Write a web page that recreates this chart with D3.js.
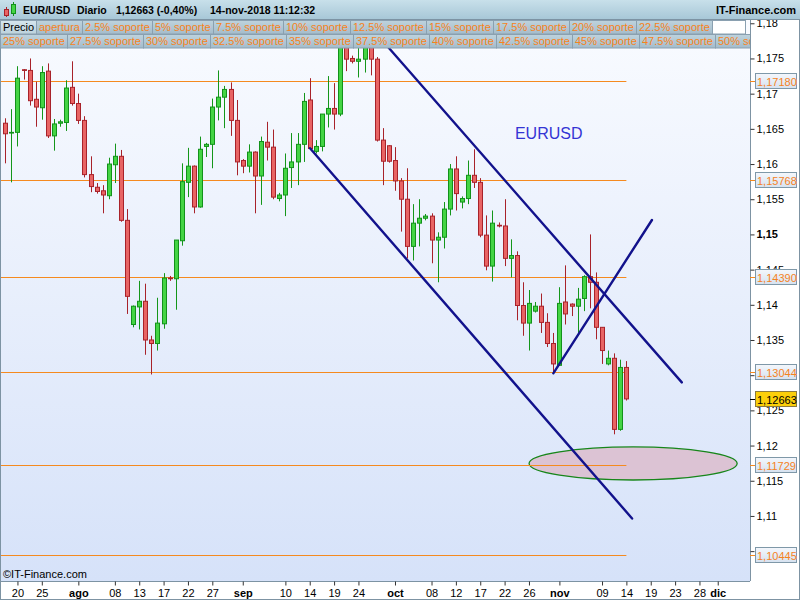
<!DOCTYPE html>
<html><head><meta charset="utf-8">
<script src="https://cdn.jsdelivr.net/npm/d3@7"></script>
<style>
body{margin:0;background:#fff}
svg{display:block;font-family:"Liberation Sans",Arial,sans-serif}
</style>
</head><body>
<svg id="c" width="800" height="600"></svg>
<script>
// ---------- DATA ----------
const opens = [1.1658,1.1644,1.1645,1.1734,1.1733,1.1692,1.1680,1.1732,1.1640,1.1658,
1.1659,1.1709,1.1686,1.1662,1.1585,1.1567,1.1562,1.1555,1.1599,1.1611,
1.1520,1.1372,1.1397,1.1405,1.1350,1.1345,1.1373,1.1438,1.1437,1.1491,
1.1574,1.1597,1.1539,1.1625,1.1628,1.1681,1.1695,1.1706,1.1662,1.1605,
1.1597,1.1617,1.1583,1.1631,1.1624,1.1551,1.1556,1.1595,1.1603,1.1628,
1.1691,1.1618,1.1625,1.1671,1.1679,1.1671,1.1778,1.1750,1.1746,1.1749,
1.1770,1.1749,1.1634,1.1626,1.1605,1.1576,1.1550,1.1483,1.1516,1.1523,
1.1526,1.1492,1.1496,1.1536,1.1593,1.1546,1.1551,1.1584,1.1574,1.1499,
1.1455,1.1513,1.1512,1.1466,1.1470,1.1399,1.1374,1.1391,1.1398,1.1375,
1.1345,1.1314,1.1404,1.1401,1.1398,1.1409,1.1440,1.1432,1.1368,1.1316,
1.1324,1.1223,1.1311];
const highs = [1.1665,1.1678,1.1739,1.1735,1.1750,1.1717,1.1739,1.1743,1.1664,1.1663,
1.1719,1.1746,1.1700,1.1668,1.1611,1.1573,1.1570,1.1609,1.1629,1.1620,
1.1536,1.1399,1.1434,1.1430,1.1356,1.1410,1.1445,1.1441,1.1492,1.1601,
1.1623,1.1598,1.1639,1.1630,1.1693,1.1733,1.1711,1.1716,1.1691,1.1607,
1.1628,1.1618,1.1639,1.1660,1.1649,1.1559,1.1615,1.1644,1.1644,1.1701,
1.1722,1.1634,1.1671,1.1725,1.1715,1.1787,1.1803,1.1754,1.1815,1.1795,
1.1776,1.1752,1.1651,1.1627,1.1624,1.1580,1.1594,1.1543,1.1550,1.1529,
1.1530,1.1503,1.1546,1.1600,1.1611,1.1554,1.1605,1.1621,1.1580,1.1527,
1.1534,1.1517,1.1550,1.1493,1.1476,1.1432,1.1421,1.1404,1.1416,1.1388,
1.1360,1.1425,1.1456,1.1402,1.1424,1.1442,1.1500,1.1446,1.1368,1.1335,
1.1331,1.1322,1.1320];
const lows = [1.1601,1.1574,1.1625,1.1720,1.1683,1.1653,1.1663,1.1637,1.1619,1.1653,
1.1647,1.1683,1.1657,1.1581,1.1560,1.1558,1.1530,1.1550,1.1573,1.1518,
1.1387,1.1368,1.1365,1.1329,1.1301,1.1335,1.1366,1.1434,1.1393,1.1484,
1.1553,1.1530,1.1538,1.1610,1.1594,1.1662,1.1651,1.1640,1.1584,1.1587,
1.1588,1.1530,1.1542,1.1605,1.1550,1.1547,1.1526,1.1566,1.1570,1.1603,
1.1621,1.1615,1.1618,1.1652,1.1649,1.1668,1.1732,1.1743,1.1723,1.1730,
1.1726,1.1632,1.1570,1.1602,1.1562,1.1504,1.1466,1.1463,1.1483,1.1520,
1.1459,1.1432,1.1480,1.1527,1.1534,1.1537,1.1543,1.1566,1.1496,1.1449,
1.1433,1.1510,1.1455,1.1439,1.1378,1.1356,1.1335,1.1389,1.1360,1.1340,
1.1304,1.1313,1.1372,1.1384,1.1360,1.1391,1.1395,1.1351,1.1316,1.1314,
1.1216,1.1221,1.1264];
const closes = [1.1643,1.1645,1.1722,1.1733,1.1690,1.1681,1.1730,1.1640,1.1657,1.1660,
1.1708,1.1686,1.1662,1.1585,1.1568,1.1561,1.1556,1.1600,1.1611,1.1520,
1.1412,1.1398,1.1405,1.1350,1.1345,1.1374,1.1438,1.1437,1.1492,1.1575,
1.1597,1.1539,1.1621,1.1628,1.1681,1.1695,1.1706,1.1662,1.1603,1.1597,
1.1617,1.1583,1.1632,1.1624,1.1553,1.1556,1.1594,1.1603,1.1628,1.1689,
1.1622,1.1625,1.1671,1.1679,1.1671,1.1778,1.1749,1.1746,1.1749,1.1770,
1.1749,1.1634,1.1604,1.1604,1.1576,1.1550,1.1483,1.1516,1.1523,1.1526,
1.1492,1.1496,1.1536,1.1593,1.1558,1.1551,1.1584,1.1574,1.1499,1.1455,
1.1516,1.1512,1.1466,1.1470,1.1399,1.1374,1.1402,1.1398,1.1375,1.1345,
1.1316,1.1402,1.1387,1.1398,1.1408,1.1440,1.1432,1.1368,1.1335,1.1324,
1.1223,1.1311,1.12663];

const levelValues = [1.17180, 1.15768, 1.14390, 1.13044, 1.11729, 1.10445];
const levelLabels = ["1,17180","1,15768","1,14390","1,13044","1,11729","1,10445"];
const lastPrice = 1.12663;
const lastLabel = "1,12663";

const yTickValues = [1.105,1.11,1.115,1.12,1.125,1.13,1.135,1.14,1.145,1.15,1.155,1.16,1.165,1.17,1.175,1.18];
// labels fully hidden behind the price boxes in the original are left empty
const yTickLabels = ["","1,11","1,115","1,12","1,125","","1,135","1,14","1,145","1,15","1,155","1,16","1,165","1,17","1,175","1,18"];

const xTickIdx    = [2,6,12,18,22,26,30,34,39,46,50,54,58,64,70,74,78,82,86,91,98,102,106,110,114,117];
const xTickLabels = ["20","25","ago","08","13","17","22","27","sep","10","14","19","24","oct","08","12","17","22","26","nov","09","14","19","23","28","dic"];
const xTickMonth  = ["ago","sep","oct","nov","dic"];

// trend lines: [startIndex, startPrice, endIndex, endPrice]
const channelTop    = [62.5, 1.17698, 111.1, 1.12898];
const channelBottom = [50.05, 1.16224, 102.94, 1.10964];
const riseLine      = [90.0, 1.13027, 106.2, 1.15205];
// ellipse zone: index range and price range
const zoneIdx   = [86.02, 120.19];
const zonePrice = [1.11511, 1.11980];
const noteText = "EURUSD";
const notePos = [83.7, 1.16356];

const legendRow1 = ["Precio","apertura","2.5% soporte","5% soporte","7.5% soporte","10% soporte","12.5% soporte","15% soporte","17.5% soporte","20% soporte","22.5% soporte"];
const legendRow2 = ["25% soporte","27.5% soporte","30% soporte","32.5% soporte","35% soporte","37.5% soporte","40% soporte","42.5% soporte","45% soporte","47.5% soporte","50% soporte"];

// ---------- DRAW ----------
const svg = d3.select("#c");
const W = 800, H = 600;
const plotL = 1, plotR = 750, plotT = 20, plotB = 581;

const x = d3.scaleLinear().domain([-0.7, 122.3]).range([plotL, plotR]);
const y = d3.scaleLinear().domain([1.100756, 1.18075]).range([plotB, 18]);

const defs = svg.append("defs");
function vgrad(id, c1, c2){
  const g = defs.append("linearGradient").attr("id", id).attr("x1",0).attr("y1",0).attr("x2",0).attr("y2",1);
  g.append("stop").attr("offset","0%").attr("stop-color",c1);
  g.append("stop").attr("offset","100%").attr("stop-color",c2);
}
vgrad("gPlot", "#f9fbff", "#d6e2f9");
vgrad("gTitle", "#c8e0ea", "#a6c6d6");
vgrad("gCell", "#bed3dd", "#a4bccb");
vgrad("gCell0", "#d6e6ee", "#bcd2dc");
vgrad("gBox", "#f4f7fc", "#d6e2f0");
defs.append("clipPath").attr("id","clipPlot").append("rect")
  .attr("x",plotL).attr("y",plotT).attr("width",plotR-plotL).attr("height",plotB-plotT);

svg.append("rect").attr("width",W).attr("height",H).attr("fill","#ffffff");
svg.append("rect").attr("x",plotL).attr("y",plotT).attr("width",plotR-plotL).attr("height",plotB-plotT)
  .attr("fill","url(#gPlot)");

const plot = svg.append("g").attr("clip-path","url(#clipPlot)");

// zone ellipse
plot.append("ellipse")
  .attr("cx", (x(zoneIdx[0])+x(zoneIdx[1]))/2)
  .attr("cy", (y(zonePrice[0])+y(zonePrice[1]))/2)
  .attr("rx", (x(zoneIdx[1])-x(zoneIdx[0]))/2)
  .attr("ry", (y(zonePrice[0])-y(zonePrice[1]))/2)
  .attr("fill","#dcc3d4").attr("stroke","#17861a").attr("stroke-width",1.3);

// horizontal levels
plot.selectAll("line.lvl").data(levelValues).enter().append("line")
  .attr("class","lvl")
  .attr("x1", x(-0.7)).attr("x2", x(opens.length-1))
  .attr("y1", d=>Math.round(y(d))+0.5).attr("y2", d=>Math.round(y(d))+0.5)
  .attr("stroke","#f58a1f").attr("stroke-width",1);

// candles
const data = opens.map((o,i)=>({i, o, h:highs[i], l:lows[i], c:closes[i]}));
const cg = plot.append("g");
const up = d=>d.c>=d.o;
cg.selectAll("line.wick").data(data).enter().append("line")
  .attr("x1", d=>Math.round(x(d.i))+0.5).attr("x2", d=>Math.round(x(d.i))+0.5)
  .attr("y1", d=>y(d.h)).attr("y2", d=>y(d.l))
  .attr("stroke", d=>up(d)?"#14961a":"#a8222a").attr("stroke-width",1);
cg.selectAll("rect.body").data(data).enter().append("rect")
  .attr("x", d=>Math.round(x(d.i))-1.5)
  .attr("width", 4)
  .attr("y", d=>y(Math.max(d.o,d.c)))
  .attr("height", d=>Math.max(0.01, Math.abs(y(d.o)-y(d.c))))
  .attr("fill", d=>up(d)?"#44d444":"#e86464")
  .attr("stroke", d=>up(d)?"#12921a":"#a8222a").attr("stroke-width",1);

// trend lines
[channelTop, channelBottom, riseLine].forEach(t=>{
  plot.append("line")
    .attr("x1", x(t[0])).attr("y1", y(t[1])).attr("x2", x(t[2])).attr("y2", y(t[3]))
    .attr("stroke","#12128c").attr("stroke-width",2.4).attr("stroke-linecap","round");
});

// note
plot.append("text").attr("x", x(notePos[0])).attr("y", y(notePos[1]))
  .attr("font-size",16).attr("fill","#3434d4").text(noteText);

plot.append("text").attr("x",3).attr("y",578).attr("font-size",11).attr("fill","#000")
  .text("\u00A9IT-Finance.com");

// frame of plot
svg.append("line").attr("x1",0.5).attr("x2",0.5).attr("y1",plotT).attr("y2",plotB).attr("stroke","#7d93a3");
svg.append("line").attr("x1",0).attr("x2",plotR).attr("y1",plotB+0.5).attr("y2",plotB+0.5).attr("stroke","#7d93a3");

// right axis
const yAxis = d3.axisRight(y).tickValues(yTickValues)
  .tickFormat((d,i)=>yTickLabels[i]).tickSize(4).tickPadding(2);
const ya = svg.append("g").attr("transform",`translate(${plotR+0.5},0)`).call(yAxis);
ya.select(".domain").attr("stroke","#7d93a3").attr("d",`M0,${plotT}V${plotB}`);
ya.selectAll(".tick line").attr("stroke","#333");
ya.selectAll(".tick text").attr("font-size",11).attr("fill","#000")
  .attr("font-family",'"Liberation Sans",Arial,sans-serif')
  .attr("font-weight",(d)=>Math.abs(d*20-Math.round(d*20))<1e-9?"bold":"normal");

// level boxes
const boxG = svg.append("g");
levelValues.forEach((v,i)=>{
  const yy = Math.round(y(v));
  boxG.append("line").attr("x1",plotR).attr("x2",plotR+5).attr("y1",yy+0.5).attr("y2",yy+0.5).attr("stroke","#f58a1f");
  boxG.append("rect").attr("x",plotR+5.5).attr("y",yy-7.5).attr("width",41).attr("height",15)
    .attr("fill","url(#gBox)").attr("stroke","#7f98a8");
  boxG.append("text").attr("x",plotR+7).attr("y",yy+4.5).attr("font-size",11).attr("fill","#f5821f").text(levelLabels[i]);
});
{
  const yy = Math.round(y(lastPrice));
  boxG.append("line").attr("x1",plotR).attr("x2",plotR+5).attr("y1",yy+0.5).attr("y2",yy+0.5).attr("stroke","#000");
  boxG.append("rect").attr("x",plotR+5.5).attr("y",yy-7.5).attr("width",41).attr("height",15)
    .attr("fill","#fbcf0a").attr("stroke","#8a7a40");
  boxG.append("text").attr("x",plotR+7).attr("y",yy+4.5).attr("font-size",11).attr("fill","#000").text(lastLabel);
}

// bottom axis
const xAxis = d3.axisBottom(x).tickValues(xTickIdx)
  .tickFormat((d,i)=>xTickLabels[i]).tickSize(4).tickPadding(4);
const xa = svg.append("g").attr("transform",`translate(0,${plotB+0.5})`).call(xAxis);
xa.select(".domain").remove();
xa.selectAll(".tick line").attr("stroke","#333");
xa.selectAll(".tick text").attr("font-size",11).attr("fill","#000")
  .attr("font-family",'"Liberation Sans",Arial,sans-serif')
  .attr("font-weight",(d,i)=>xTickMonth.includes(xTickLabels[i])?"bold":"normal");

// outer border
svg.append("rect").attr("x",0.5).attr("y",0.5).attr("width",W-1).attr("height",H-1)
  .attr("fill","none").attr("stroke","#7d93a3");

// title bar
svg.append("rect").attr("x",0).attr("y",0).attr("width",W).attr("height",20).attr("fill","url(#gTitle)");
svg.append("line").attr("x1",0).attr("x2",W).attr("y1",19.5).attr("y2",19.5).attr("stroke","#7d93a3");
// icon
const ic = svg.append("g");
ic.append("line").attr("x1",6.5).attr("x2",6.5).attr("y1",7).attr("y2",17).attr("stroke","#a8222a");
ic.append("rect").attr("x",4.5).attr("y",9.5).attr("width",4).attr("height",6).attr("fill","#e86464").attr("stroke","#a8222a");
ic.append("line").attr("x1",13.5).attr("x2",13.5).attr("y1",2).attr("y2",16).attr("stroke","#12921a");
ic.append("rect").attr("x",11.5).attr("y",4.5).attr("width",4).attr("height",9).attr("fill","#44d444").attr("stroke","#12921a");
const titleParts = [["EUR/USD",23],["Diario",77],["1,12663 (-0,40%)",116],["14-nov-2018 11:12:32",210]];
titleParts.forEach(p=>{
  svg.append("text").attr("x",p[1]).attr("y",14).attr("font-size",10.5).attr("font-weight","bold")
    .attr("fill","#000").text(p[0]);
});
svg.append("text").attr("x",796).attr("y",14).attr("text-anchor","end").attr("font-size",11)
  .attr("font-weight","bold").attr("fill","#000").text("IT-Finance.com");

// legend rows
function legendRow(labels, y0, h, endBox){
  const g = svg.append("g");
  let xx = 0;
  labels.forEach((t,i)=>{
    const cell = g.append("g");
    const r = cell.append("rect").attr("y",y0+0.5).attr("height",h).attr("x",xx+0.5)
      .attr("fill", (t==="Precio")?"url(#gCell0)":"url(#gCell)").attr("stroke","#8aa0b0");
    const tx = cell.append("text").attr("x",xx+3).attr("y",y0+h-2.5).attr("font-size",11)
      .attr("fill", t==="Precio"?"#000":"#f7831c").text(t);
    const w = Math.round(tx.node().getComputedTextLength()) + 5;
    r.attr("width", w);
    xx += w;
  });
  if(endBox){
    g.append("rect").attr("x",xx+0.5).attr("y",y0+0.5).attr("width",Math.max(0,745-xx)).attr("height",h)
      .attr("fill","#fff").attr("stroke","#8aa0b0");
  }
  return g;
}
defs.append("clipPath").attr("id","clipLeg").append("rect")
  .attr("x",0).attr("y",0).attr("width",plotR).attr("height",60);
legendRow(legendRow1, 20, 13.5, true).attr("clip-path","url(#clipLeg)");
legendRow(legendRow2, 34, 13.5, false).attr("clip-path","url(#clipLeg)");
</script>
</body></html>
